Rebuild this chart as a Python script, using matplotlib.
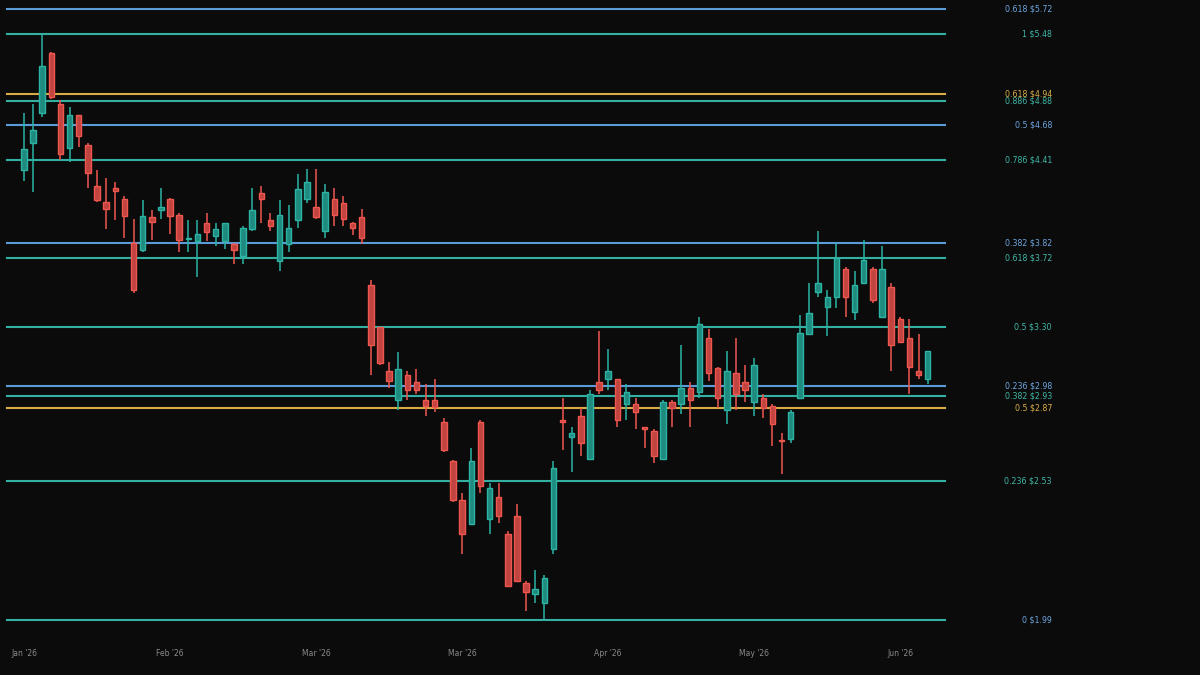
import matplotlib
matplotlib.use("Agg")
import matplotlib.pyplot as plt
import numpy as np

# candle data (one bar per period)
opens = [4.33, 4.54, 4.78, 5.30, 4.85, 4.50, 4.76, 4.525, 4.21, 4.10,
         4.20, 4.12, 3.82, 3.77, 3.99, 4.04, 4.12, 4.01, 3.845, 3.83,
         3.95, 3.865, 3.83, 3.81, 3.73, 3.91, 4.16, 3.97, 3.70, 3.81,
         3.97, 4.12, 4.06, 3.90, 4.12, 4.09, 3.95, 3.99, 3.55, 3.30,
         3.06, 2.91, 3.04, 3.00, 2.91, 2.91, 2.80, 2.62, 2.45, 2.35,
         2.80, 2.37, 2.46, 2.31, 2.38, 2.12, 2.08, 2.05, 2.25, 2.81,
         2.73, 2.83, 2.63, 3.00, 3.02, 3.02, 2.89, 2.89, 2.775, 2.76,
         2.63, 2.90, 2.89, 2.97, 2.95, 3.24, 3.075, 2.86, 3.05, 3.00,
         2.90, 2.92, 2.88, 2.715, 2.72, 2.92, 3.26, 3.51, 3.42, 3.48,
         3.65, 3.39, 3.56, 3.65, 3.36, 3.54, 3.35, 3.24, 3.06, 3.02]
highs = [4.78, 4.85, 5.48, 5.31, 4.89, 4.83, 4.76, 4.54, 4.33, 4.27,
         4.24, 4.14, 3.98, 4.11, 4.04, 4.20, 4.125, 4.02, 3.97, 3.97,
         4.02, 3.95, 3.955, 3.82, 3.93, 4.20, 4.21, 4.02, 4.11, 4.08,
         4.30, 4.34, 4.34, 4.23, 4.20, 4.14, 3.96, 4.05, 3.58, 3.30,
         3.11, 3.16, 3.06, 3.07, 2.99, 3.02, 2.82, 2.625, 2.48, 2.68,
         2.81, 2.52, 2.52, 2.32, 2.43, 2.13, 2.17, 2.15, 2.62, 2.92,
         2.78, 2.87, 2.96, 3.28, 3.18, 3.02, 2.99, 2.92, 2.78, 2.77,
         2.91, 2.91, 3.20, 3.00, 3.36, 3.29, 3.08, 3.17, 3.24, 3.09,
         3.13, 2.94, 2.89, 2.75, 2.86, 3.37, 3.56, 3.90, 3.52, 3.82,
         3.66, 3.64, 3.84, 3.66, 3.80, 3.56, 3.36, 3.35, 3.26, 3.17]
lows = [4.25, 4.17, 4.75, 4.90, 4.41, 4.39, 4.51, 4.20, 4.10, 3.91,
        3.97, 3.85, 3.50, 3.76, 3.84, 3.98, 3.88, 3.76, 3.76, 3.60,
        3.83, 3.80, 3.78, 3.68, 3.68, 3.90, 3.95, 3.90, 3.64, 3.76,
        3.92, 4.09, 3.98, 3.85, 3.93, 3.93, 3.87, 3.81, 3.04, 3.09,
        2.97, 2.86, 2.91, 2.94, 2.83, 2.85, 2.66, 2.44, 2.23, 2.345,
        2.48, 2.31, 2.355, 2.11, 2.13, 2.02, 2.05, 1.99, 2.23, 2.67,
        2.57, 2.64, 2.63, 2.94, 2.96, 2.78, 2.81, 2.77, 2.68, 2.61,
        2.625, 2.78, 2.84, 2.78, 2.92, 3.01, 2.87, 2.79, 2.86, 2.90,
        2.83, 2.82, 2.69, 2.56, 2.70, 2.915, 3.255, 3.48, 3.25, 3.41,
        3.36, 3.34, 3.555, 3.44, 3.358, 3.06, 3.21, 2.94, 3.02, 2.99]
closes = [4.49, 4.64, 5.18, 4.91, 4.45, 4.76, 4.59, 4.31, 4.11, 4.05,
          4.18, 4.00, 3.52, 4.00, 3.96, 4.06, 4.00, 3.84, 3.85, 3.88,
          3.89, 3.91, 3.95, 3.77, 3.92, 4.04, 4.12, 3.93, 4.01, 3.92,
          4.19, 4.24, 3.99, 4.17, 4.01, 3.98, 3.92, 3.85, 3.20, 3.10,
          3.01, 3.07, 2.96, 2.96, 2.88, 2.875, 2.67, 2.45, 2.31, 2.62,
          2.51, 2.50, 2.38, 2.11, 2.13, 2.09, 2.10, 2.14, 2.59, 2.80,
          2.75, 2.70, 2.94, 2.96, 3.06, 2.81, 2.95, 2.85, 2.77, 2.64,
          2.90, 2.87, 2.97, 2.91, 3.32, 3.05, 2.92, 3.06, 2.94, 2.96,
          3.09, 2.87, 2.79, 2.71, 2.85, 3.27, 3.38, 3.56, 3.48, 3.72,
          3.48, 3.55, 3.71, 3.46, 3.65, 3.20, 3.22, 3.08, 3.04, 3.17]

tick_idx = [0, 16, 32, 48, 64, 80, 96]
tick_labels = ["Jan '26", "Feb '26", "Mar '26", "Mar '26", "Apr '26", "May '26", "Jun '26"]

# fib levels: ratio, price, colour group
fib_ratios = ["0.618", "1", "0.618", "0.886", "0.5", "0.786", "0.382", "0.618",
              "0.5", "0.236", "0.382", "0.5", "0.236", "0"]
fib_prices = [5.72, 5.48, 4.94, 4.88, 4.68, 4.41, 3.82, 3.72,
              3.30, 2.98, 2.93, 2.87, 2.53, 1.99]
fib_groups = ["blue", "teal", "gold", "teal", "blue", "teal", "blue", "teal",
              "teal", "blue", "teal", "gold", "teal", "blue"]

BG = "#0b0b0b"
UP, UP_FILL = "#2bb3a3", "#1f8a7e"
DN, DN_FILL = "#f0564f", "#c0443f"
line_col = {"blue": "#5b9bd8", "teal": "#33b0a2", "gold": "#d9ab45"}
text_col = {"blue": "#6ea6e0", "teal": "#3fb8a8", "gold": "#dcae48"}

fig = plt.figure(figsize=(12, 6.75), dpi=100, facecolor=BG)
ax = fig.add_axes([7 / 1200, 55 / 675, 938 / 1200, 611 / 675])
ax.set_facecolor(BG)
ax.set_yscale("log")
ax.set_ylim(1.99, 5.72)
ax.set_xlim(-1.86, 100.9)

x = np.arange(len(opens))
o = np.array(opens)
h = np.array(highs)
l = np.array(lows)
c = np.array(closes)
up = c >= o

# fib lines, teal zero line drawn last so it sits on top
for price, grp in zip(fib_prices, fib_groups):
    if price == 1.99:
        continue
    ax.axhline(price, color=line_col[grp], lw=1.5, zorder=1, clip_on=False)
ax.axhline(1.99, color=line_col["teal"], lw=1.5, zorder=1, clip_on=False)

# wicks
ax.vlines(x[up], l[up], h[up], color=UP, lw=1.1, zorder=2)
ax.vlines(x[~up], l[~up], h[~up], color=DN, lw=1.1, zorder=2)

# bodies
body_lo = np.minimum(o, c)
body_h = np.maximum(np.abs(c - o), 0.006)
ax.bar(x[up], body_h[up], bottom=body_lo[up], width=0.6, color=UP_FILL,
       edgecolor=UP, linewidth=1.0, zorder=3)
ax.bar(x[~up], body_h[~up], bottom=body_lo[~up], width=0.6, color=DN_FILL,
       edgecolor=DN, linewidth=1.0, zorder=3)

# right side labels
for r, price, grp in zip(fib_ratios, fib_prices, fib_groups):
    ax.text(1.114, price, f"{r} ${price:.2f}", transform=ax.get_yaxis_transform(),
            ha="right", va="center", fontsize=5.7, color=text_col[grp], clip_on=False)

ax.set_xticks(tick_idx)
ax.set_xticklabels(tick_labels)
ax.tick_params(axis="x", length=0, pad=21, labelsize=5.5, colors="#8a8a8a")
ax.yaxis.set_visible(False)
ax.minorticks_off()
ax.tick_params(axis="y", which="both", left=False, labelleft=False)
for s in ax.spines.values():
    s.set_visible(False)

fig.savefig("out.png", dpi=100, facecolor=BG)
